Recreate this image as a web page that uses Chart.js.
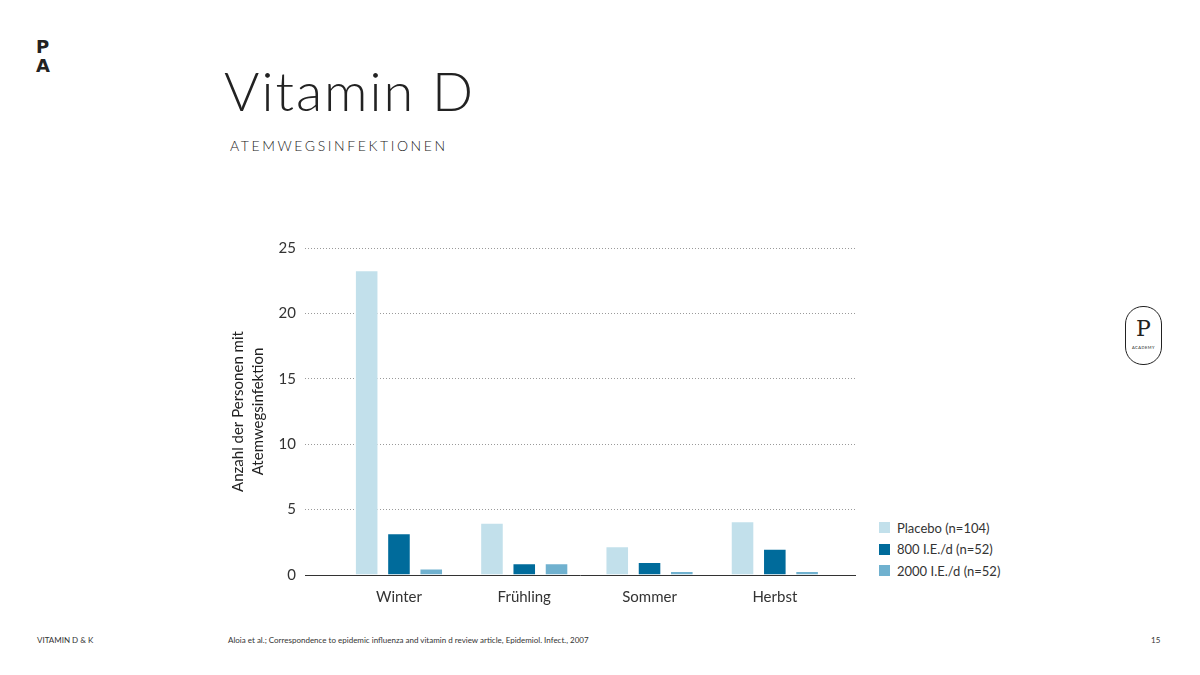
<!DOCTYPE html>
<html lang="de">
<head>
<meta charset="utf-8">
<script src="https://cdn.jsdelivr.net/npm/chart.js@4"></script>
<style>
  body { margin: 0; width: 1200px; height: 675px; background: #fff; position: relative; overflow: hidden; font-family: Lato, "Open Sans", sans-serif; color: #222; }
  .abs { position: absolute; }
  #logo { left: 36px; top: 37px; font: 900 18px/19px "DejaVu Sans", sans-serif; }
  #title { left: 224px; top: 58px; font-weight: 300; font-size: 54px; letter-spacing: 2px; }
  #subtitle { left: 230px; top: 137px; font-size: 14px; font-weight: 300; letter-spacing: 2.6px; }
  #wrap { left: 220px; top: 230px; width: 640px; height: 385px; }
  #legend { left: 879px; top: 517px; font-size: 13px; color: #333; }
  #legend div { height: 21.5px; display: flex; align-items: center; }
  #legend span { display: inline-block; width: 11px; height: 11px; margin-right: 7px; }
  .foot { top: 635px; font-size: 8px; color: #333; }
  #pill { left: 1125px; top: 306px; width: 35px; height: 57px; border: 1.3px solid #222; border-radius: 18px; text-align: center; }
  #pill .p { font: 22px/22px "DejaVu Serif", serif; margin-top: 11px; }
  #pill .a { font-size: 4px; letter-spacing: 0.5px; margin-top: 5px; }
</style>
</head>
<body>
<div id="logo" class="abs">P<br>A</div>
<div id="title" class="abs">Vitamin D</div>
<div id="subtitle" class="abs">ATEMWEGSINFEKTIONEN</div>
<div id="wrap" class="abs"><canvas id="myChart"></canvas></div>
<div id="legend" class="abs"></div>
<div id="pill" class="abs"><div class="p">P</div><div class="a">ACADEMY</div></div>
<div class="abs foot" style="left:37px">VITAMIN D &amp; K</div>
<div class="abs foot" style="left:228px">Aloia et al.; Correspondence to epidemic influenza and vitamin d review article, Epidemiol. Infect., 2007</div>
<div class="abs foot" style="left:1151px">15</div>
<script>
const seasons = ["Winter", "Frühling", "Sommer", "Herbst"];
const placebo = [23.3, 4.0, 2.2, 4.1];
const dose800 = [3.2, 0.9, 1.0, 2.0];
const dose2000 = [0.5, 0.9, 0.3, 0.3];
const seriesNames = ["Placebo (n=104)", "800 I.E./d (n=52)", "2000 I.E./d (n=52)"];
const seriesColors = ["#c2e0eb", "#006b9b", "#70b1cf"];
const yTicks = [0, 5, 10, 15, 20, 25];

// x as linear so the axis line can run past the first/last group
const toPoints = (values) => values.map((y, i) => ({ x: i + 1, y }));

const datasets = [placebo, dose800, dose2000].map((values, i) => ({
  label: seriesNames[i],
  data: toPoints(values),
  backgroundColor: seriesColors[i],
  borderColor: "#fff",
  borderWidth: 1,
  borderSkipped: "bottom",
  categoryPercentage: 0.773,
  barPercentage: 0.73,
}));

const tickFont = { family: "Lato, sans-serif", size: 15 };

new Chart(document.getElementById("myChart"), {
  type: "bar",
  data: { datasets },
  options: {
    responsive: true,
    maintainAspectRatio: false,
    animation: false,
    layout: { padding: { top: 18, right: 5, bottom: 4 } },
    plugins: { legend: { display: false }, tooltip: { enabled: false } },
    scales: {
      x: {
        type: "linear",
        offset: false,
        min: 0.25,
        max: 4.64,
        afterBuildTicks: (scale) => {
          scale.ticks = seasons.map((s, i) => ({ value: i + 1 }));
        },
        ticks: {
          callback: (v) => seasons[v - 1] || "",
          font: tickFont,
          color: "#333",
          padding: 5,
          maxRotation: 0,
          autoSkip: false,
        },
        grid: { display: false, offset: false },
        border: { display: true, color: "#333", width: 1 },
      },
      y: {
        min: 0,
        max: 25,
        afterBuildTicks: (scale) => {
          scale.ticks = yTicks.map((value) => ({ value }));
        },
        afterFit: (scale) => { scale.width = 85; },
        ticks: { font: tickFont, color: "#333", padding: 9 },
        grid: {
          drawTicks: false,
          color: (ctx) => (ctx.tick.value === 0 ? "rgba(0,0,0,0)" : "#9a9a9a"),
          lineWidth: 1,
        },
        border: { display: false, dash: [1, 2] },
        title: {
          display: true,
          text: ["Anzahl der Personen mit", "Atemwegsinfektion"],
          font: { family: "Lato, sans-serif", size: 15, lineHeight: 1.33 },
          color: "#222",
          padding: { top: 8, bottom: 0 },
        },
      },
    },
  },
});

const legend = document.getElementById("legend");
seriesNames.forEach((name, i) => {
  const row = document.createElement("div");
  row.innerHTML = `<span style="background:${seriesColors[i]}"></span>${name}`;
  legend.appendChild(row);
});
</script>
</body>
</html>
